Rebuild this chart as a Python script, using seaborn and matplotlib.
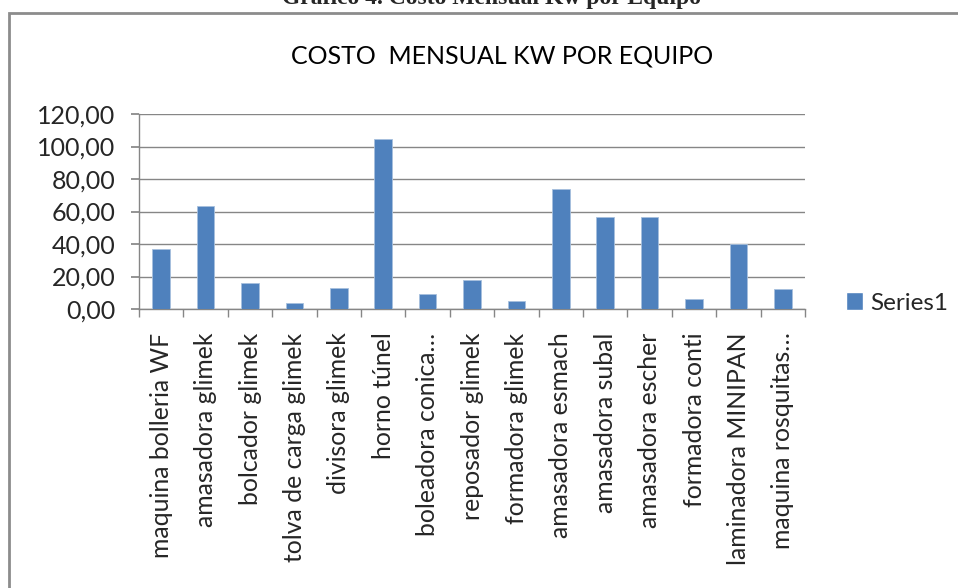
import matplotlib
matplotlib.use("Agg")
import matplotlib.pyplot as plt
import matplotlib.ticker as mticker
from matplotlib.patches import Patch, Rectangle
import seaborn as sns

# data
equipos = [
    "maquina bolleria WF", "amasadora glimek", "bolcador glimek",
    "tolva de carga glimek", "divisora glimek", "horno túnel",
    "boleadora conica…", "reposador glimek", "formadora glimek",
    "amasadora esmach", "amasadora subal", "amasadora escher",
    "formadora conti", "laminadora MINIPAN", "maquina rosquitas…",
]
costos = [36.7, 63.4, 16.2, 3.5, 12.9, 104.4, 9.0, 17.6, 5.1, 73.6,
          56.4, 56.4, 6.0, 40.0, 12.1]
serie = "Series1"

sns.set_theme(style="white")
plt.rcParams["font.family"] = ["Lato", "DejaVu Sans"]

bar_color = "#4F81BD"
grid_color = "#868686"

fig = plt.figure(figsize=(9.58, 5.88), dpi=100)
ax = fig.add_axes([139 / 958, 1 - 309 / 588, 666 / 958, 195 / 588])

sns.barplot(x=equipos, y=costos, color=bar_color, saturation=1, width=0.4,
            edgecolor="#A7C0DE", linewidth=0.6, ax=ax, zorder=3)

ax.set_ylim(0, 120)
ax.set_xlim(-0.5, len(equipos) - 0.5)
ax.yaxis.set_major_locator(mticker.MultipleLocator(20))
ax.yaxis.set_major_formatter(
    mticker.FuncFormatter(lambda v, p: f"{v:.2f}".replace(".", ",")))
ax.grid(axis="y", color=grid_color, linewidth=1, zorder=0)
ax.grid(axis="x", visible=False)

for s in ["top", "right"]:
    ax.spines[s].set_visible(False)
for s in ["left", "bottom"]:
    ax.spines[s].set_color(grid_color)
    ax.spines[s].set_linewidth(1)

ax.tick_params(axis="y", which="major", length=6, color=grid_color,
               labelsize=18, pad=11, left=True)
ax.tick_params(axis="x", which="major", length=0, labelsize=17.8, pad=17)
ax.set_xticks(range(len(equipos)))
ax.set_xticklabels(equipos, rotation=90, va="top", ha="center")
ax.xaxis.set_minor_locator(mticker.FixedLocator(
    [i - 0.5 for i in range(len(equipos) + 1)]))
ax.tick_params(axis="x", which="minor", length=6, color=grid_color,
               bottom=True)
ax.set_xlabel("")
ax.set_ylabel("")

ax.legend(handles=[Patch(facecolor=bar_color, label=serie)],
          loc="center left", bbox_to_anchor=(846 / 958, 1 - 303 / 588),
          bbox_transform=fig.transFigure, frameon=False, fontsize=17.5,
          borderpad=0, borderaxespad=0,
          handlelength=0.7, handleheight=0.7, handletextpad=0.3)

fig.text(502 / 958, 1 - 56 / 588, "COSTO  MENSUAL KW POR EQUIPO",
         ha="center", va="center", fontsize=18, color="black")

# outer chart frame and cut-off document caption
fig.add_artist(Rectangle((9 / 958, -0.05), 1.0, 1 - 13 / 588 + 0.05,
                         transform=fig.transFigure, fill=False,
                         edgecolor="#8C8C8C", linewidth=2))
fig.text(492 / 958, 1 - 4 / 588, "Gráfico 4. Costo Mensual Kw por Equipo",
         ha="center", va="baseline", fontsize=17, fontweight="bold",
         family=["Liberation Serif", "DejaVu Serif"])

fig.savefig("out.png", dpi=100)
